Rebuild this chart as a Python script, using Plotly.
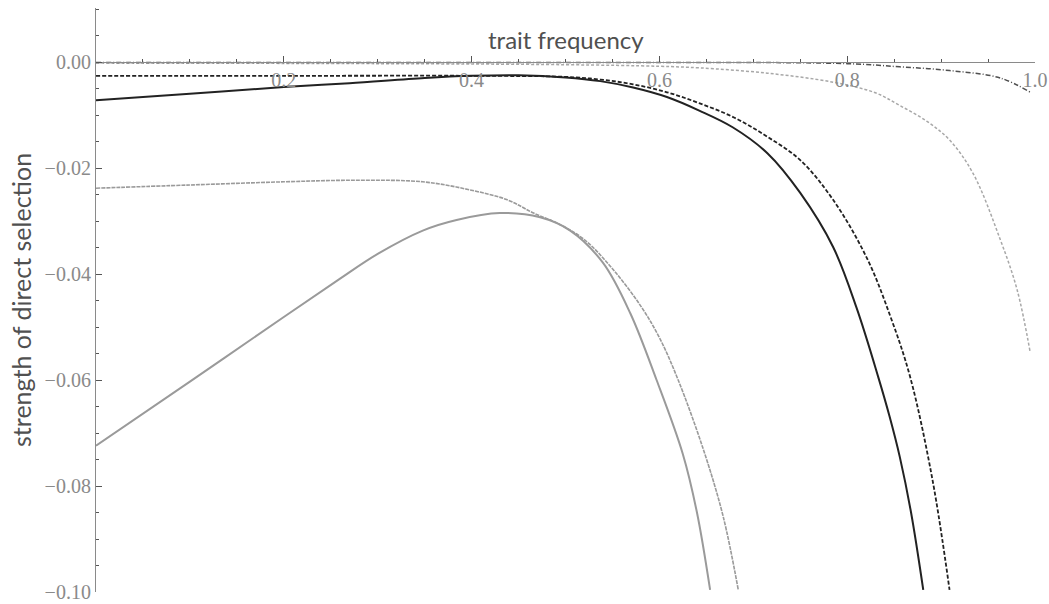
import plotly.graph_objects as go

# ---- data ----
solid_black_x = [0.0, 0.1, 0.2, 0.27, 0.35, 0.4, 0.45, 0.5, 0.537, 0.572, 0.608, 0.643, 0.678, 0.715, 0.75, 0.785, 0.81, 0.833, 0.845, 0.856, 0.868, 0.881]
solid_black_y = [-0.0072, -0.0060, -0.0047, -0.0040, -0.0030, -0.0026, -0.0025, -0.0029, -0.0036, -0.0048, -0.0066, -0.0092, -0.0123, -0.0172, -0.0247, -0.0349, -0.0464, -0.0594, -0.0668, -0.0745, -0.0850, -0.0996]

dashed_black_x = [0.0, 0.2, 0.4, 0.5, 0.537, 0.572, 0.608, 0.643, 0.68, 0.715, 0.75, 0.785, 0.821, 0.846, 0.867, 0.891, 0.909]
dashed_black_y = [-0.0026, -0.0026, -0.0026, -0.0028, -0.0033, -0.0042, -0.0057, -0.0078, -0.0105, -0.0141, -0.0185, -0.0260, -0.0370, -0.0480, -0.0594, -0.0790, -0.0996]

solid_gray_x = [0.0, 0.1, 0.2, 0.258, 0.3, 0.348, 0.384, 0.43, 0.473, 0.505, 0.54, 0.569, 0.597, 0.625, 0.64, 0.654]
solid_gray_y = [-0.0724, -0.0603, -0.0481, -0.0411, -0.0362, -0.0318, -0.0298, -0.0285, -0.0293, -0.0318, -0.0379, -0.0474, -0.0600, -0.0740, -0.0850, -0.0996]

dashed_gray_x = [0.0, 0.1, 0.2, 0.278, 0.348, 0.395, 0.438, 0.466, 0.491, 0.52, 0.55, 0.58, 0.60, 0.62, 0.647, 0.668, 0.684]
dashed_gray_y = [-0.0238, -0.0232, -0.0226, -0.0223, -0.0226, -0.0240, -0.0260, -0.0285, -0.0304, -0.0335, -0.0390, -0.0460, -0.0520, -0.0600, -0.0732, -0.0858, -0.0996]

light_dashed_x = [0.0, 0.3, 0.5, 0.6, 0.643, 0.715, 0.785, 0.83, 0.856, 0.885, 0.909, 0.934, 0.963, 0.981, 0.995]
light_dashed_y = [-0.0002, -0.0003, -0.0005, -0.0008, -0.0011, -0.0021, -0.0038, -0.0058, -0.0082, -0.0112, -0.0147, -0.0210, -0.0335, -0.0430, -0.0549]

dashdot_x = [0.0, 0.5, 0.8, 0.856, 0.909, 0.963, 0.995]
dashdot_y = [-0.0001, -0.0001, -0.0003, -0.0009, -0.0016, -0.0030, -0.0057]

x_tickvals = [0.2, 0.4, 0.6, 0.8, 1.0]
x_ticktext = ["0.2", "0.4", "0.6", "0.8", "1.0"]
y_tickvals = [0.0, -0.02, -0.04, -0.06, -0.08, -0.10]
y_ticktext = ["0.00", "\u22120.02", "\u22120.04", "\u22120.06", "\u22120.08", "\u22120.10"]

YMIN, YMAX = -0.10, 0.0102

fig = go.Figure()

def add(x, y, color, width, dash):
    fig.add_trace(go.Scatter(x=x, y=y, mode="lines",
                             line=dict(color=color, width=width, dash=dash, shape="spline", smoothing=1.0),
                             showlegend=False, hoverinfo="skip"))

add(light_dashed_x, light_dashed_y, "#a8a8a8", 1.5, "3px,2px")
add(dashdot_x, dashdot_y, "#505050", 1.5, "5px,2px,1px,2px")
add(dashed_gray_x, dashed_gray_y, "#9a9a9a", 1.6, "4px,1px")
add(solid_gray_x, solid_gray_y, "#9a9a9a", 2.0, "solid")
add(dashed_black_x, dashed_black_y, "#222222", 1.8, "4px,2px")
add(solid_black_x, solid_black_y, "#222222", 2.0, "solid")

tickfont = dict(family="Liberation Serif", size=20, color="#8a8a8a")
titlefont = dict(family="Lato", size=24, color="#505050")

fig.update_layout(
    width=1049, height=604,
    margin=dict(l=96, r=14, t=8, b=12, autoexpand=False),
    paper_bgcolor="white", plot_bgcolor="white",
    xaxis=dict(range=[0, 1.0], anchor="free", position=(0 - YMIN) / (YMAX - YMIN), automargin=False,
               showgrid=False, zeroline=False, showline=True, linecolor="#8a8a8a", linewidth=1.2,
               tickmode="array", tickvals=x_tickvals, ticktext=x_ticktext, ticklabeloverflow="allow",
               ticks="inside", ticklen=6, tickwidth=1.2, tickcolor="#555555",
               minor=dict(tickmode="linear", tick0=0, dtick=0.05, ticks="inside", ticklen=3, tickcolor="#555555"),
               tickfont=tickfont),
    yaxis=dict(range=[YMIN, YMAX], automargin=False, showgrid=False, zeroline=False, showline=True,
               linecolor="#8a8a8a", linewidth=1.2, ticklabeloverflow="allow",
               tickmode="array", tickvals=y_tickvals, ticktext=y_ticktext,
               ticks="inside", ticklen=6, tickwidth=1.2, tickcolor="#555555",
               minor=dict(tickmode="linear", tick0=0, dtick=0.005, ticks="inside", ticklen=3, tickcolor="#555555"),
               tickfont=tickfont),
    annotations=[
        dict(text="trait frequency", xref="paper", yref="y", x=0.5, y=0, xanchor="center", yanchor="bottom",
             yshift=6, showarrow=False, font=titlefont),
        dict(text="strength of direct selection", xref="paper", yref="paper", x=0, y=0.5, xanchor="center",
             yanchor="middle", xshift=-75, textangle=-90, showarrow=False, font=dict(titlefont, size=25)),
    ],
)

# remove the default page margin so the figure fills the window exactly
fig.write_html("out.html", config={"displayModeBar": False},
               post_script="document.body.style.margin='0';document.body.style.overflow='hidden';")
